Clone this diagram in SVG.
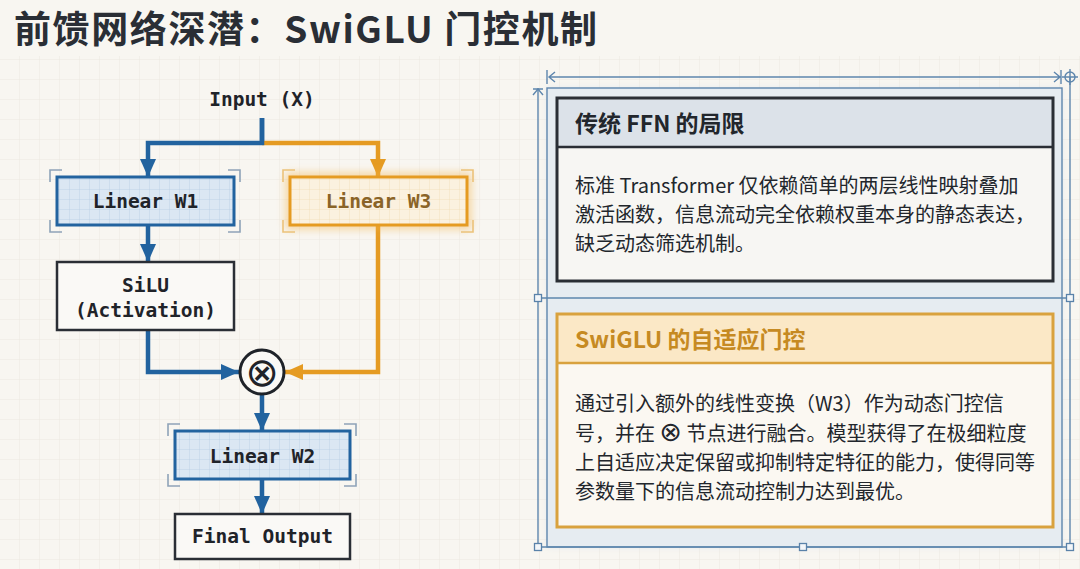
<svg xmlns="http://www.w3.org/2000/svg" width="1080" height="569" viewBox="0 0 1080 569">
<defs>
<style>
.mono{font-family:"DejaVu Sans Mono","Liberation Mono",monospace;font-weight:bold;font-size:19.5px;fill:#1f2329;text-anchor:middle}
.cjk{font-family:"Noto Sans CJK SC","Noto Sans",sans-serif}
.body{font-size:20px;fill:#22262c}
.hdr{font-size:23px;font-weight:bold}
.blue{stroke:#22639f;stroke-width:4.5;fill:none}
.orange{stroke:#e59b22;stroke-width:4.5;fill:none}
.brk{fill:none;stroke:#8ea3b8;stroke-width:1.6}
.brko{fill:none;stroke:#ecc27a;stroke-width:1.6}
.dim{fill:none;stroke:#5e86ad;stroke-width:1.4}
.handle{fill:#f3f6f9;stroke:#5a82a9;stroke-width:1.3}
</style>
<pattern id="bg" width="20" height="20" patternUnits="userSpaceOnUse" x="0" y="0">
<path d="M20,0 V20 M0,20 H20" fill="none" stroke="#ede9e1" stroke-width="1"/>
</pattern>
<pattern id="gb" width="10" height="10" patternUnits="userSpaceOnUse">
<path d="M10,0 V10 M0,10 H10" fill="none" stroke="#b9cde2" stroke-width="0.8"/>
</pattern>
<pattern id="go" width="10" height="10" patternUnits="userSpaceOnUse">
<path d="M10,0 V10 M0,10 H10" fill="none" stroke="#f0dcb6" stroke-width="0.8"/>
</pattern>
<filter id="glow" x="-20%" y="-40%" width="140%" height="180%">
<feGaussianBlur stdDeviation="4"/>
</filter>
<filter id="soft" x="-10%" y="-10%" width="120%" height="120%">
<feGaussianBlur stdDeviation="3"/>
</filter>
<marker id="ab" viewBox="0 0 18 16" refX="18" refY="8" markerWidth="18" markerHeight="16" markerUnits="userSpaceOnUse" orient="auto">
<path d="M0,0 L18,8 L0,16 z" fill="#22639f"/>
</marker>
<marker id="ao" viewBox="0 0 18 16" refX="18" refY="8" markerWidth="18" markerHeight="16" markerUnits="userSpaceOnUse" orient="auto">
<path d="M0,0 L18,8 L0,16 z" fill="#e59b22"/>
</marker>
</defs>

<rect width="1080" height="569" fill="#f8f6f1"/>
<rect y="56" width="1080" height="513" fill="url(#bg)"/>

<text class="cjk" x="14" y="43" font-size="37" font-weight="bold" fill="#2a2e35" letter-spacing="1.6">前馈网络深潜：SwiGLU 门控机制</text>

<g id="connectors">
<path class="blue" d="M262,118 V143 H148 V177" marker-end="url(#ab)"/>
<path class="orange" d="M262,143 H378 V177" marker-end="url(#ao)"/>
<path class="blue" d="M262,118 V145"/>
<path class="blue" d="M148,225 V262" marker-end="url(#ab)"/>
<path class="blue" d="M148,330 V372 H239" marker-end="url(#ab)"/>
<path class="orange" d="M378,225 V372 H285" marker-end="url(#ao)"/>
<path class="blue" d="M262,394 V431" marker-end="url(#ab)"/>
<path class="blue" d="M262,479 V514" marker-end="url(#ab)"/>
</g>

<g id="input">
<text class="mono" x="262" y="106">Input (X)</text>
</g>

<g id="linear-w1">
<path class="brk" d="M50,182 V170 H62 M228,170 H240 V182 M240,220 V232 H228 M62,232 H50 V220"/>
<rect x="57" y="177" width="177" height="48" fill="#dbe7f3"/>
<rect x="57" y="177" width="177" height="48" fill="url(#gb)"/>
<rect x="57" y="177" width="177" height="48" fill="none" stroke="#22639f" stroke-width="3"/>
<text class="mono" x="145.5" y="208">Linear W1</text>
</g>

<g id="linear-w3">
<rect x="290" y="177" width="177" height="48" fill="none" stroke="#f2b14a" stroke-width="8" opacity="0.55" filter="url(#glow)"/>
<path class="brko" d="M283,182 V170 H295 M461,170 H473 V182 M473,220 V232 H461 M295,232 H283 V220"/>
<rect x="290" y="177" width="177" height="48" fill="#fbf1df"/>
<rect x="290" y="177" width="177" height="48" fill="url(#go)"/>
<rect x="290" y="177" width="177" height="48" fill="none" stroke="#e59b22" stroke-width="3"/>
<text class="mono" x="378.5" y="208" style="fill:#8a6428">Linear W3</text>
</g>

<g id="silu">
<rect x="57" y="262" width="177" height="68" fill="#faf9f6" stroke="#2a2e35" stroke-width="2.5"/>
<text class="mono" x="145.5" y="292">SiLU</text>
<text class="mono" x="145.5" y="317">(Activation)</text>
</g>

<g id="multiply">
<circle cx="262" cy="372" r="22" fill="#faf9f6" stroke="#1f2329" stroke-width="3"/>
<text x="262" y="385.5" text-anchor="middle" font-family="DejaVu Sans,sans-serif" font-size="40" fill="#1f2329">⊗</text>
</g>

<g id="linear-w2">
<path class="brk" d="M168,436 V424 H180 M344,424 H356 V436 M356,474 V486 H344 M180,486 H168 V474"/>
<rect x="175" y="431" width="175" height="48" fill="#dbe7f3"/>
<rect x="175" y="431" width="175" height="48" fill="url(#gb)"/>
<rect x="175" y="431" width="175" height="48" fill="none" stroke="#22639f" stroke-width="3"/>
<text class="mono" x="262.5" y="463">Linear W2</text>
</g>

<g id="final-output">
<rect x="175" y="514" width="175" height="45" fill="#faf9f6" stroke="#2a2e35" stroke-width="2.5"/>
<text class="mono" x="262.5" y="543">Final Output</text>
</g>

<g id="panel">
<rect x="547" y="88" width="515" height="459" fill="#c9d8e6" opacity="0.5" filter="url(#soft)"/>
<rect x="547" y="88" width="515" height="459" fill="#e6ecf1"/>
<rect x="547" y="88" width="515" height="459" class="dim"/>
<path class="dim" d="M538,88 V547 H1070 V77 M538,298 H1070"/>
<path class="dim" d="M549,77 H1060 M547,70 V84 M1061,70 V84 M555,72 L549,77 L555,82 M1054,72 L1060,77 L1054,82"/>
<path class="dim" d="M533,89 H543 M533,95 L538,89 L543,95"/>
<circle cx="1070" cy="77" r="5" class="dim"/>
<path class="dim" d="M1062,77 H1078 M1070,69 V85"/>
<rect class="handle" x="534.5" y="294.5" width="7" height="7"/>
<rect class="handle" x="1066.5" y="294.5" width="7" height="7"/>
<rect class="handle" x="534.5" y="543.5" width="7" height="7"/>
<rect class="handle" x="799.5" y="543.5" width="7" height="7"/>
<rect class="handle" x="1066.5" y="543.5" width="7" height="7"/>
</g>

<g id="card-ffn">
<rect x="557" y="98" width="496" height="183" fill="#f7f6f3"/>
<rect x="557" y="98" width="496" height="49" fill="#dce2e9"/>
<line x1="557" y1="147" x2="1053" y2="147" stroke="#2a2e35" stroke-width="2.5"/>
<rect x="557" y="98" width="496" height="183" fill="none" stroke="#2a2e35" stroke-width="3"/>
<text class="cjk hdr" x="575" y="132" fill="#22262c">传统 FFN 的局限</text>
<text class="cjk body" x="575" y="193">标准 Transformer 仅依赖简单的两层线性映射叠加</text>
<text class="cjk body" x="575" y="222">激活函数，信息流动完全依赖权重本身的静态表达，</text>
<text class="cjk body" x="575" y="251">缺乏动态筛选机制。</text>
</g>

<g id="card-swiglu">
<rect x="557" y="314" width="496" height="213" fill="#fbf8f2"/>
<rect x="557" y="314" width="496" height="49" fill="#fbe8c6"/>
<line x1="557" y1="363" x2="1053" y2="363" stroke="#d9a23e" stroke-width="2.5"/>
<rect x="557" y="314" width="496" height="213" fill="none" stroke="#d9a23e" stroke-width="3"/>
<text class="cjk hdr" x="575" y="348" fill="#c68a22">SwiGLU 的自适应门控</text>
<text class="cjk body" x="575" y="411">通过引入额外的线性变换（W3）作为动态门控信</text>
<text class="cjk body" x="575" y="441">号，并在 <tspan font-family="DejaVu Sans,sans-serif" font-size="27">⊗</tspan> 节点进行融合。模型获得了在极细粒度</text>
<text class="cjk body" x="575" y="470">上自适应决定保留或抑制特定特征的能力，使得同等</text>
<text class="cjk body" x="575" y="499">参数量下的信息流动控制力达到最优。</text>
</g>
</svg>
